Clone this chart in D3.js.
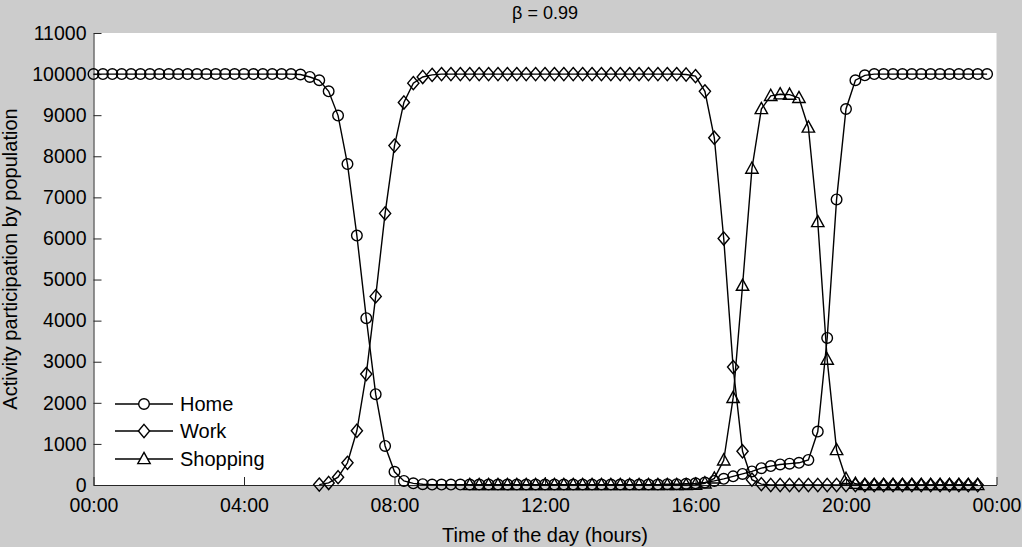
<!DOCTYPE html>
<html><head><meta charset="utf-8">
<script src="https://cdn.jsdelivr.net/npm/d3@7"></script>
<style>
body{margin:0;background:#cccccc;}
svg text{font-family:"Liberation Sans",Arial,Helvetica,sans-serif;fill:#000;}
</style></head>
<body><svg id="chart" width="1022" height="547"></svg>
<script>
// ---- data ----
const chartTitle = "β = 0.99";
const xLabel = "Time of the day (hours)";
const yLabel = "Activity participation by population";
const stepHours = 0.25;           // samples every 15 minutes
const xTickHours = [0, 4, 8, 12, 16, 20, 24];
const xTickLabels = ["00:00", "04:00", "08:00", "12:00", "16:00", "20:00", "00:00"];
const yTicks = [0,1000,2000,3000,4000,5000,6000,7000,8000,9000,10000,11000];

const homeStart = 0;
const homeValues = [
10000,10000,10000,10000,10000,10000,10000,10000,10000,10000,10000,10000,
10000,10000,10000,10000,10000,10000,10000,10000,10000,10000,
9990,9930,9850,9580,8990,7810,6070,4060,2210,950,320,100,40,20,
10,10,10,10,10,10,10,10,10,10,10,10,10,10,10,10,10,10,10,10,10,10,10,10,10,
20,20,30,
40,60,100,150,210,270,330,410,460,500,520,540,610,1300,3580,6950,9150,9850,9970,
10000,10000,10000,10000,10000,10000,10000,10000,10000,10000,10000,10000,10000
];

const workStart = 6;
const workValues = [
10,50,190,540,1320,2700,4590,6610,8260,9310,9780,9930,9980,
10000,10000,10000,10000,10000,10000,10000,10000,10000,10000,10000,10000,10000,
10000,10000,10000,10000,10000,10000,10000,10000,10000,10000,10000,10000,10000,
9990,9950,9580,8450,6000,2870,820,130,20,
0,0,0,0,0,0,0,0,0,0,0,0,0,0,0,0,0,0,0,0,0,0,0
];

const shopStart = 10;
const shopValues = [
0,0,0,0,0,0,0,0,0,0,0,0,0,0,0,0,0,0,0,0,0,0,0,0,
10,40,160,600,2120,4850,7700,9150,9470,9510,9500,9420,8700,6400,3050,850,150,30,
0,0,0,0,0,0,0,0,0,0,0,0,0
];

const seriesNames = ["Home", "Work", "Shopping"];
const seriesMarkers = ["circle", "diamond", "triangle"];

// ---- build ----
function toPoints(start, vals){ return vals.map((v,i)=>({t:start+i*stepHours, v})); }
const series = [
  {name:seriesNames[0], marker:seriesMarkers[0], pts:toPoints(homeStart, homeValues)},
  {name:seriesNames[1], marker:seriesMarkers[1], pts:toPoints(workStart, workValues)},
  {name:seriesNames[2], marker:seriesMarkers[2], pts:toPoints(shopStart, shopValues)}
];

const L=93.5, R=996.5, T=33, B=485;
const svg = d3.select("#chart");
const x = d3.scaleLinear().domain([0,24]).range([L,R]);
const y = d3.scaleLinear().domain([0,11000]).range([B,T]);
const axisColor = "#262626";

svg.append("rect").attr("x",0).attr("y",0).attr("width",1022).attr("height",547).attr("fill","#cccccc");
svg.append("rect").attr("x",L).attr("y",T).attr("width",R-L).attr("height",B-T).attr("fill","#ffffff");

function markerPath(type){
  if(type==="circle"){ return d3.symbol().type(d3.symbolCircle).size(Math.PI*5.3*5.3)(); }
  if(type==="diamond"){ const w=5.6,h=6.6; return `M0,${-h}L${w},0L0,${h}L${-w},0Z`; }
  const w=6.2; return `M0,-6.6L${w},4.6L${-w},4.6Z`;
}

// axes
const xAxis = d3.axisBottom(x).tickValues(xTickHours)
  .tickFormat((d,i)=>xTickLabels[i]).tickSizeInner(-8).tickSizeOuter(0).tickPadding(13);
const gx = svg.append("g").attr("transform",`translate(0,${B})`).call(xAxis);
gx.selectAll("text").style("font-size","19.5px").attr("fill","#000");

const yAxis = d3.axisLeft(y).tickValues(yTicks).tickFormat(d3.format("d"))
  .tickSizeInner(-8).tickSizeOuter(0).tickPadding(7);
const gy = svg.append("g").attr("transform",`translate(${L},0)`).call(yAxis);
gy.selectAll("text").style("font-size","19.5px").attr("fill","#000");
[gx,gy].forEach(g=>{ g.selectAll("path,line").attr("stroke",axisColor).attr("stroke-width",1); });

// lines + markers
const line = d3.line().x(d=>x(d.t)).y(d=>y(d.v));
series.forEach(s=>{
  svg.append("path").datum(s.pts).attr("d",line)
    .attr("fill","none").attr("stroke","#000").attr("stroke-width",1.4);
  const p = markerPath(s.marker);
  svg.append("g").selectAll("path").data(s.pts).join("path")
    .attr("d",p).attr("transform",d=>`translate(${x(d.t)},${y(d.v)})`)
    .attr("fill","none").attr("stroke","#000").attr("stroke-width",1.4);
});

// legend
const legY = [404, 431, 459];
series.forEach((s,i)=>{
  const g = svg.append("g").attr("transform",`translate(0,${legY[i]})`);
  g.append("line").attr("x1",115).attr("x2",173).attr("y1",0).attr("y2",0)
    .attr("stroke","#000").attr("stroke-width",1.4);
  g.append("path").attr("d",markerPath(s.marker)).attr("transform","translate(144,0)")
    .attr("fill","#fff").attr("stroke","#000").attr("stroke-width",1.4);
  g.append("text").attr("x",180).attr("y",0).attr("dy","0.36em")
    .style("font-size","20px").text(s.name);
});

// titles
svg.append("text").attr("x",(L+R)/2).attr("y",19).attr("text-anchor","middle")
  .style("font-size","18px").text(chartTitle);
svg.append("text").attr("x",(L+R)/2).attr("y",542).attr("text-anchor","middle")
  .style("font-size","20px").text(xLabel);
svg.append("text").attr("transform",`translate(17,${(T+B)/2}) rotate(-90)`)
  .attr("text-anchor","middle").style("font-size","20px").text(yLabel);
</script></body></html>
